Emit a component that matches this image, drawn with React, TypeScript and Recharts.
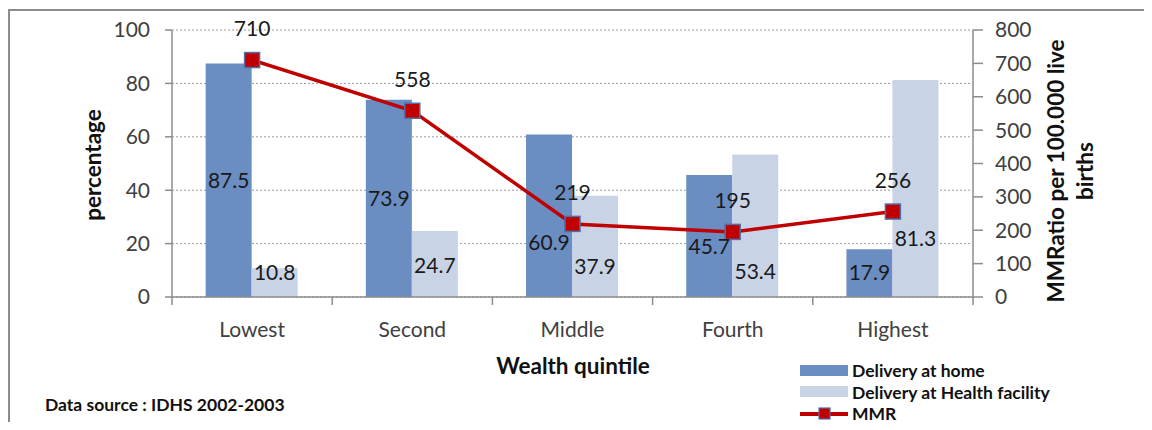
import React from 'react';
import { ComposedChart, Bar, Line, XAxis, YAxis, CartesianGrid, LabelList } from 'recharts';

// categories and series
const quintiles = ['Lowest', 'Second', 'Middle', 'Fourth', 'Highest'];
const deliveryHome = [87.5, 73.9, 60.9, 45.7, 17.9];
const deliveryFacility = [10.8, 24.7, 37.9, 53.4, 81.3];
const mmrRatio = [710, 558, 219, 195, 256];
const pctTicks = [0, 20, 40, 60, 80, 100];
const mmrTicks = [0, 100, 200, 300, 400, 500, 600, 700, 800];

const data = quintiles.map((q, i) => ({
  quintile: q,
  home: deliveryHome[i],
  facility: deliveryFacility[i],
  mmr: mmrRatio[i],
}));

const W = 1152;
const H = 430;
const PLOT = { left: 172, right: 973, top: 30, bottom: 297 };
const BAND = (PLOT.right - PLOT.left) / quintiles.length;

const FONT = 'Lato, "Open Sans", sans-serif';
const HOME = '#6A8DC2';
const FACILITY = '#C9D3E6';
const RED = '#C00000';
const MARK_EDGE = '#4F6FA6';
const AXIS = '#8C8C8C';

// label nudges, the original labels were dragged around by hand
const homeNudge = [0, 0, 27, 11, 0];
const facilityLift = [24, 31, 30, 25, 58];

const HomeLabel = (p: any) => (
  <text x={p.x + p.width / 2} y={p.y + p.height / 2 + homeNudge[p.index]} dy="0.35em"
    textAnchor="middle" fontFamily={FONT} fontSize={21} fill="#1a1a1a">
    {p.value}
  </text>
);

const FacilityLabel = (p: any) => (
  <text x={p.x + p.width / 2} y={p.y + p.height - facilityLift[p.index]} dy="0.35em"
    textAnchor="middle" fontFamily={FONT} fontSize={21} fill="#1a1a1a">
    {p.value}
  </text>
);

const MmrLabel = (p: any) => (
  <text x={p.x} y={p.y - 31} dy="0.35em" textAnchor="middle" fontFamily={FONT} fontSize={21} fill="#1a1a1a">
    {p.value}
  </text>
);

const SquareDot = (p: any) => (
  <rect key={`sq-${p.index}`} x={p.cx - 7.5} y={p.cy - 7.5} width={15} height={15}
    fill={RED} stroke={MARK_EDGE} strokeWidth={1.5} />
);

const CategoryTick = (p: any) => {
  const last = p.index === quintiles.length - 1;
  return (
    <g>
      <line x1={p.x - BAND / 2} x2={p.x - BAND / 2} y1={PLOT.bottom} y2={PLOT.bottom + 8} stroke={AXIS} strokeWidth={1.5} />
      {last && <line x1={p.x + BAND / 2} x2={p.x + BAND / 2} y1={PLOT.bottom} y2={PLOT.bottom + 8} stroke={AXIS} strokeWidth={1.5} />}
      <text x={p.x} y={PLOT.bottom + 33} dy="0.35em" textAnchor="middle" fontFamily={FONT} fontSize={21} fill="#404040">
        {p.payload.value}
      </text>
    </g>
  );
};

const legendItems = [
  { name: 'Delivery at home', kind: 'bar', color: HOME },
  { name: 'Delivery at Health facility', kind: 'bar', color: FACILITY },
  { name: 'MMR', kind: 'line', color: RED },
];

const LegendBox = () => (
  <div style={{ position: 'absolute', left: 800, top: 360, fontFamily: FONT, fontWeight: 700, fontSize: 17.5, color: '#111', lineHeight: '21.5px' }}>
    {legendItems.map((it) => (
      <div key={it.name} style={{ display: 'flex', alignItems: 'center' }}>
        <svg width={50} height={14} style={{ marginRight: 2 }}>
          {it.kind === 'bar' ? (
            <rect x={0} y={1} width={48} height={11} fill={it.color} />
          ) : (
            <g>
              <line x1={0} x2={48} y1={7} y2={7} stroke={RED} strokeWidth={4} />
              <rect x={19} y={1} width={11} height={11} fill={RED} stroke={MARK_EDGE} strokeWidth={1.2} />
            </g>
          )}
        </svg>
        <span>{it.name}</span>
      </div>
    ))}
  </div>
);

export default function App() {
  return (
    <div style={{ position: 'relative', margin: -8, width: W, height: H, background: '#fff', overflow: 'hidden' }}>
      <div style={{ position: 'absolute', left: 8, top: 9, right: 0, bottom: 0, borderTop: `2px solid ${AXIS}`, borderLeft: `2px solid ${AXIS}` }} />
      <ComposedChart
        width={W}
        height={H}
        data={data}
        margin={{ top: PLOT.top, left: PLOT.left - 60, right: W - PLOT.right - 60, bottom: H - PLOT.bottom - 40 }}
        barCategoryGap="21%"
        barGap={0}
        style={{ position: 'absolute', left: 0, top: 0 }}
      >
        <CartesianGrid yAxisId="pct" vertical={false} stroke="#9a9a9a" strokeDasharray="2 2" />
        <XAxis dataKey="quintile" height={40} axisLine={{ stroke: AXIS, strokeWidth: 1.5 }} tickLine={false} tick={<CategoryTick />} interval={0} />
        <YAxis yAxisId="pct" orientation="left" width={60} domain={[0, 100]} ticks={pctTicks}
          axisLine={{ stroke: AXIS, strokeWidth: 1.5 }} tickLine={{ stroke: AXIS, strokeWidth: 1.5 }}
          tickSize={7} tickMargin={15}
          tick={{ fontFamily: FONT, fontSize: 21, fill: '#404040' }} />
        <YAxis yAxisId="mmr" orientation="right" width={60} domain={[0, 800]} ticks={mmrTicks}
          axisLine={{ stroke: AXIS, strokeWidth: 1.5 }} tickLine={{ stroke: AXIS, strokeWidth: 1.5 }}
          tickSize={10} tickMargin={12}
          tick={{ fontFamily: FONT, fontSize: 21, fill: '#404040', textAnchor: 'start' }} />
        <Bar yAxisId="pct" dataKey="home" name="Delivery at home" fill={HOME} isAnimationActive={false}>
          <LabelList dataKey="home" content={<HomeLabel />} />
        </Bar>
        <Bar yAxisId="pct" dataKey="facility" name="Delivery at Health facility" fill={FACILITY} isAnimationActive={false}>
          <LabelList dataKey="facility" content={<FacilityLabel />} />
        </Bar>
        <Line yAxisId="mmr" dataKey="mmr" name="MMR" stroke={RED} strokeWidth={3.5} dot={<SquareDot />}
          activeDot={false} isAnimationActive={false}>
          <LabelList dataKey="mmr" content={<MmrLabel />} />
        </Line>
      </ComposedChart>
      <LegendBox />
      <svg width={W} height={H} style={{ position: 'absolute', left: 0, top: 0, pointerEvents: 'none' }}>
        <text transform="translate(93 165) rotate(-90)" textAnchor="middle" dy="0.35em" fontFamily={FONT} fontWeight={700} fontSize={22.5} fill="#111">
          percentage
        </text>
        <text x={573} y={366} textAnchor="middle" dy="0.35em" fontFamily={FONT} fontWeight={700} fontSize={22.5} fill="#111">
          Wealth quintile
        </text>
        <text transform="translate(1056 171) rotate(-90)" textAnchor="middle" dy="0.35em" fontFamily={FONT} fontWeight={700} fontSize={22.5} fill="#111">
          MMRatio per 100.000 live
        </text>
        <text transform="translate(1085 171) rotate(-90)" textAnchor="middle" dy="0.35em" fontFamily={FONT} fontWeight={700} fontSize={22.5} fill="#111">
          births
        </text>
        <text x={45} y={405} dy="0.35em" fontFamily={FONT} fontWeight={700} fontSize={17.5} fill="#111">
          Data source : IDHS 2002-2003
        </text>
      </svg>
    </div>
  );
}
